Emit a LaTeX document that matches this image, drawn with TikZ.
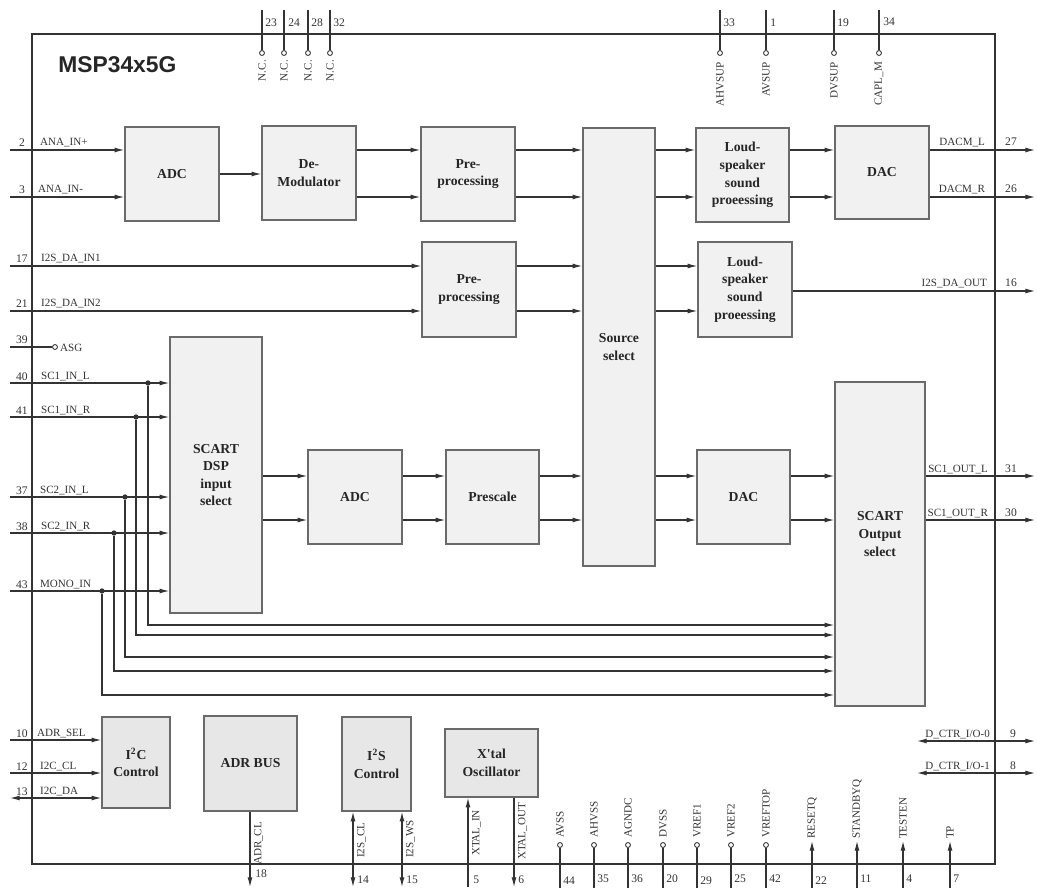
\documentclass[tikz,border=0pt]{standalone}
\usepackage{fontspec}
\setmainfont{Liberation Serif}
\newfontfamily\titlesans{Liberation Sans}
\usepackage{tikz}
\usetikzlibrary{arrows.meta,positioning}
\definecolor{mspline}{HTML}{333333}
\definecolor{mspedge}{HTML}{6A6A6A}
\definecolor{mspfill}{HTML}{F1F1F1}
\definecolor{mspctrl}{HTML}{E7E7E7}

\begin{document}
\begin{tikzpicture}[
    x=0.02cm, y=-0.02cm,
    block/.style={draw=mspedge, fill=mspfill, line width=0.9pt, align=center, inner sep=0pt, font=\fontsize{7.8}{10}\selectfont\bfseries, text=black!85},
    ctrlblock/.style={block, fill=mspctrl},
    blocktext/.style={align=center, inner sep=0pt, font=\fontsize{7.8}{10}\selectfont\bfseries, text=black!85},
    pinname/.style={inner sep=1pt, font=\fontsize{6.3}{7}\selectfont, text=mspline},
    pinnum/.style={inner sep=0pt, font=\fontsize{6.6}{7}\selectfont, text=mspline},
    wire/.style={line width=0.6pt, draw=mspline},
    arrow/.style={wire, -{Latex[length=5.5pt,width=2.8pt]}},
    darrow/.style={wire, {Latex[length=5.5pt,width=2.8pt]}-{Latex[length=5.5pt,width=2.8pt]}},
    ring/.style={circle, draw=mspline, fill=white, line width=0.5pt, minimum size=2.8pt, inner sep=0pt},
    joint/.style={circle, fill=mspline, minimum size=3pt, inner sep=0pt},
]
    \useasboundingbox (0,0) rectangle (1037,888);
    \draw[line width=0.8pt, draw=mspline] (32,34) rectangle (995,864);
    \node[anchor=base west, inner sep=0pt, font=\titlesans\fontsize{13}{15}\selectfont\bfseries, text=black!85] (chipname) at (58,73) {MSP34x5G};

    \coordinate (yA1) at (0,150);
    \coordinate (yA2) at (0,197);
    \coordinate (yB1) at (0,266);
    \coordinate (yB2) at (0,311);
    \coordinate (yC1) at (0,476);
    \coordinate (yC2) at (0,520);

    \node[block, minimum width=1.88cm, minimum height=1.88cm] (adcA) at (172,174) {ADC};
    \node[block, minimum width=1.88cm, minimum height=1.88cm] (demod) at (309,173) {De-\\Modulator};
    \node[block, minimum width=1.88cm, minimum height=1.88cm] (preA) at (468,174) {Pre-\\processing};
    \node[block, minimum width=1.44cm, minimum height=8.76cm] (source) at (619,347) {Source\\select};
    \node[block, minimum width=1.86cm, minimum height=1.88cm] (loudA) at (742.5,175) {Loud-\\speaker\\sound\\proeessing};
    \node[block, minimum width=1.88cm, minimum height=1.86cm] (dacA) at (882,172.5) {DAC};
    \node[block, minimum width=1.88cm, minimum height=1.9cm] (preB) at (469,289.5) {Pre-\\processing};
    \node[block, minimum width=1.88cm, minimum height=1.9cm] (loudB) at (745,289.5) {Loud-\\speaker\\sound\\proeessing};
    \node[block, minimum width=1.84cm, minimum height=5.52cm] (scartin) at (216,475) {SCART\\DSP\\input\\select};
    \node[block, minimum width=1.88cm, minimum height=1.88cm] (adcB) at (355,497) {ADC};
    \node[block, minimum width=1.86cm, minimum height=1.88cm] (prescale) at (492.5,497) {Prescale};
    \node[block, minimum width=1.86cm, minimum height=1.88cm] (dacB) at (743.5,497) {DAC};
    \node[block, minimum width=1.8cm, minimum height=6.48cm] (scartout) at (880,544) {};
    \node[blocktext] (scartouttext) at (880,534) {SCART\\Output\\select};

    \node[ctrlblock, minimum width=1.36cm, minimum height=1.82cm] (iicctrl) at (136,762.5) {I\textsuperscript{2}C\\Control};
    \node[ctrlblock, minimum width=1.86cm, minimum height=1.9cm] (adrbus) at (250.5,763.5) {ADR BUS};
    \node[ctrlblock, minimum width=1.38cm, minimum height=1.88cm] (iisctrl) at (376.5,764) {I\textsuperscript{2}S\\Control};
    \node[ctrlblock, minimum width=1.86cm, minimum height=1.36cm] (xtal) at (491.5,763) {X\textquotesingle tal\\Oscillator};

    \draw[arrow] (adcA.east) -- (adcA.east -| demod.west);
    \draw[arrow] (demod.east |- yA1) -- (preA.west |- yA1);
    \draw[arrow] (demod.east |- yA2) -- (preA.west |- yA2);
    \draw[arrow] (preA.east |- yA1) -- (source.west |- yA1);
    \draw[arrow] (preA.east |- yA2) -- (source.west |- yA2);
    \draw[arrow] (source.east |- yA1) -- (loudA.west |- yA1);
    \draw[arrow] (source.east |- yA2) -- (loudA.west |- yA2);
    \draw[arrow] (loudA.east |- yA1) -- (dacA.west |- yA1);
    \draw[arrow] (loudA.east |- yA2) -- (dacA.west |- yA2);
    \draw[arrow] (preB.east |- yB1) -- (source.west |- yB1);
    \draw[arrow] (preB.east |- yB2) -- (source.west |- yB2);
    \draw[arrow] (source.east |- yB1) -- (loudB.west |- yB1);
    \draw[arrow] (source.east |- yB2) -- (loudB.west |- yB2);
    \draw[arrow] (scartin.east |- yC1) -- (adcB.west |- yC1);
    \draw[arrow] (scartin.east |- yC2) -- (adcB.west |- yC2);
    \draw[arrow] (adcB.east |- yC1) -- (prescale.west |- yC1);
    \draw[arrow] (adcB.east |- yC2) -- (prescale.west |- yC2);
    \draw[arrow] (prescale.east |- yC1) -- (source.west |- yC1);
    \draw[arrow] (prescale.east |- yC2) -- (source.west |- yC2);
    \draw[arrow] (source.east |- yC1) -- (dacB.west |- yC1);
    \draw[arrow] (source.east |- yC2) -- (dacB.west |- yC2);
    \draw[arrow] (dacB.east |- yC1) -- (scartout.west |- yC1);
    \draw[arrow] (dacB.east |- yC2) -- (scartout.west |- yC2);

    \coordinate (p2) at (10,150);
    \coordinate (p3) at (10,197);
    \coordinate (p17) at (10,266);
    \coordinate (p21) at (10,311);
    \coordinate (p39) at (10,347);
    \coordinate (p40) at (10,383);
    \coordinate (p41) at (10,417);
    \coordinate (p37) at (10,497);
    \coordinate (p38) at (10,533);
    \coordinate (p43) at (10,591);
    \coordinate (p10) at (10,740);
    \coordinate (p12) at (10,773);
    \coordinate (p13) at (10,798);

    \draw[arrow] (p2) -- (p2 -| adcA.west);
    \draw[arrow] (p3) -- (p3 -| adcA.west);
    \draw[arrow] (p17) -- (p17 -| preB.west);
    \draw[arrow] (p21) -- (p21 -| preB.west);
    \node[ring] (asg) at (55,347) {};
    \draw[wire] (p39) -- (asg);
    \draw[arrow] (p40) -- (p40 -| scartin.west);
    \draw[arrow] (p41) -- (p41 -| scartin.west);
    \draw[arrow] (p37) -- (p37 -| scartin.west);
    \draw[arrow] (p38) -- (p38 -| scartin.west);
    \draw[arrow] (p43) -- (p43 -| scartin.west);
    \draw[arrow] (p10) -- (p10 -| iicctrl.west);
    \draw[arrow] (p12) -- (p12 -| iicctrl.west);
    \draw[darrow] (p13) -- (p13 -| iicctrl.west);

    \coordinate (bus40) at (0,625);
    \coordinate (bus41) at (0,635);
    \coordinate (bus37) at (0,657);
    \coordinate (bus38) at (0,671);
    \coordinate (bus43) at (0,695);
    \node[joint] (d40) at (148,383) {};
    \node[joint] (d41) at (136,417) {};
    \node[joint] (d37) at (125,497) {};
    \node[joint] (d38) at (114,533) {};
    \node[joint] (d43) at (102,591) {};
    \draw[arrow] (d40) |- (scartout.west |- bus40);
    \draw[arrow] (d41) |- (scartout.west |- bus41);
    \draw[arrow] (d37) |- (scartout.west |- bus37);
    \draw[arrow] (d38) |- (scartout.west |- bus38);
    \draw[arrow] (d43) |- (scartout.west |- bus43);

    \node[pinnum, anchor=base] (n2) at (22,147) {2};
    \node[pinnum, anchor=base] (n3) at (22,194) {3};
    \node[pinnum, anchor=base] (n17) at (22,263) {17};
    \node[pinnum, anchor=base] (n21) at (22,308) {21};
    \node[pinnum, anchor=base] (n39) at (22,343) {39};
    \node[pinnum, anchor=base] (n40) at (22,380) {40};
    \node[pinnum, anchor=base] (n41) at (22,414) {41};
    \node[pinnum, anchor=base] (n37) at (22,494) {37};
    \node[pinnum, anchor=base] (n38) at (22,530) {38};
    \node[pinnum, anchor=base] (n43) at (22,588) {43};
    \node[pinnum, anchor=base] (n10) at (22,737) {10};
    \node[pinnum, anchor=base] (n12) at (22,770) {12};
    \node[pinnum, anchor=base] (n13) at (22,795) {13};

    \node[pinname, anchor=base west] (l2) at (38,146) {ANA\_IN+};
    \node[pinname, anchor=base west] (l3) at (36,193) {ANA\_IN-};
    \node[pinname, anchor=base west] (l17) at (39,262) {I2S\_DA\_IN1};
    \node[pinname, anchor=base west] (l21) at (39,307) {I2S\_DA\_IN2};
    \node[pinname, anchor=west] (lasg) at (58,348) {ASG};
    \node[pinname, anchor=base west] (l40) at (39,379) {SC1\_IN\_L};
    \node[pinname, anchor=base west] (l41) at (39,413) {SC1\_IN\_R};
    \node[pinname, anchor=base west] (l37) at (38,493) {SC2\_IN\_L};
    \node[pinname, anchor=base west] (l38) at (39,529) {SC2\_IN\_R};
    \node[pinname, anchor=base west] (l43) at (38,587) {MONO\_IN};
    \node[pinname, anchor=base west] (l10) at (35,736) {ADR\_SEL};
    \node[pinname, anchor=base west] (l12) at (38,769) {I2C\_CL};
    \node[pinname, anchor=base west] (l13) at (38,794) {I2C\_DA};

    \coordinate (p27) at (1035,150);
    \coordinate (p26) at (1035,197);
    \coordinate (p16) at (1035,291);
    \coordinate (p31) at (1035,476);
    \coordinate (p30) at (1035,520);
    \coordinate (p9) at (1035,741);
    \coordinate (p8) at (1035,773);
    \coordinate (dio0) at (917,741);
    \coordinate (dio1) at (917,773);

    \draw[arrow] (dacA.east |- p27) -- (p27);
    \draw[arrow] (dacA.east |- p26) -- (p26);
    \draw[arrow] (loudB.east |- p16) -- (p16);
    \draw[arrow] (scartout.east |- p31) -- (p31);
    \draw[arrow] (scartout.east |- p30) -- (p30);
    \draw[darrow] (dio0) -- (p9);
    \draw[darrow] (dio1) -- (p8);

    \node[pinname, anchor=base east] (l27) at (987,146) {DACM\_L};
    \node[pinname, anchor=base east] (l26) at (987,193) {DACM\_R};
    \node[pinname, anchor=base east] (l16) at (989,287) {I2S\_DA\_OUT};
    \node[pinname, anchor=base east] (l31) at (990,472) {SC1\_OUT\_L};
    \node[pinname, anchor=base east] (l30) at (990,516) {SC1\_OUT\_R};
    \node[pinname, anchor=base east] (l9) at (992,737) {D\_CTR\_I/O-0};
    \node[pinname, anchor=base east] (l8) at (992,769) {D\_CTR\_I/O-1};

    \node[pinnum, anchor=base] (n27) at (1011,146) {27};
    \node[pinnum, anchor=base] (n26) at (1011,193) {26};
    \node[pinnum, anchor=base] (n16) at (1011,287) {16};
    \node[pinnum, anchor=base] (n31) at (1011,472) {31};
    \node[pinnum, anchor=base] (n30) at (1011,516) {30};
    \node[pinnum, anchor=base] (n9) at (1013,737) {9};
    \node[pinnum, anchor=base] (n8) at (1013,769) {8};

    \coordinate (p23) at (262,10);
    \coordinate (p24) at (284,10);
    \coordinate (p28) at (308,10);
    \coordinate (p32) at (330,10);
    \coordinate (p33) at (720,10);
    \coordinate (p1) at (766,10);
    \coordinate (p19) at (834,10);
    \coordinate (p34) at (879,10);
    \node[ring] (nc23) at (262,53) {};
    \node[ring] (nc24) at (284,53) {};
    \node[ring] (nc28) at (308,53) {};
    \node[ring] (nc32) at (330,53) {};
    \node[ring] (ahvsup) at (720,53) {};
    \node[ring] (avsup) at (766,53) {};
    \node[ring] (dvsup) at (834,53) {};
    \node[ring] (caplm) at (879,53) {};
    \draw[wire] (p23) -- (nc23);
    \draw[wire] (p24) -- (nc24);
    \draw[wire] (p28) -- (nc28);
    \draw[wire] (p32) -- (nc32);
    \draw[wire] (p33) -- (ahvsup);
    \draw[wire] (p1) -- (avsup);
    \draw[wire] (p19) -- (dvsup);
    \draw[wire] (p34) -- (caplm);

    \node[pinnum, anchor=base west] (n23) at (265,27) {23};
    \node[pinnum, anchor=base west] (n24) at (288,27) {24};
    \node[pinnum, anchor=base west] (n28) at (311,27) {28};
    \node[pinnum, anchor=base west] (n32) at (333,27) {32};
    \node[pinnum, anchor=base west] (n33) at (723,27) {33};
    \node[pinnum, anchor=base west] (n1) at (770,27) {1};
    \node[pinnum, anchor=base west] (n19) at (837,27) {19};
    \node[pinnum, anchor=base west] (n34) at (883,26) {34};

    \node[pinname, rotate=90, anchor=east] (l23) at (262,58) {N.C.};
    \node[pinname, rotate=90, anchor=east] (l24) at (284,58) {N.C.};
    \node[pinname, rotate=90, anchor=east] (l28) at (308,58) {N.C.};
    \node[pinname, rotate=90, anchor=east] (l32) at (330,58) {N.C.};
    \node[pinname, rotate=90, anchor=east] (l33) at (720,60) {AHVSUP};
    \node[pinname, rotate=90, anchor=east] (l1) at (766,60) {AVSUP};
    \node[pinname, rotate=90, anchor=east] (l19) at (834,60) {DVSUP};
    \node[pinname, rotate=90, anchor=east] (l34) at (879,60) {CAPL\_M};

    \coordinate (p18) at (250,887);
    \coordinate (p14) at (353,887);
    \coordinate (p15) at (402,887);
    \coordinate (p5) at (468,887);
    \coordinate (p6) at (514,887);
    \draw[arrow] (p18 |- adrbus.south) -- (p18);
    \draw[darrow] (p14 |- iisctrl.south) -- (p14);
    \draw[darrow] (p15 |- iisctrl.south) -- (p15);
    \draw[arrow] (p5) -- (p5 |- xtal.south);
    \draw[arrow] (p6 |- xtal.south) -- (p6);

    \node[pinname, rotate=90, anchor=north west] (l18) at (252,867) {ADR\_CL};
    \node[pinname, rotate=90, anchor=north west] (l14) at (355,860) {I2S\_CL};
    \node[pinname, rotate=90, anchor=north west] (l15) at (404,860) {I2S\_WS};
    \node[pinname, rotate=90, anchor=north west] (l5) at (470,858) {XTAL\_IN};
    \node[pinname, rotate=90, anchor=north west] (l6) at (516,862) {XTAL\_OUT};
    \node[pinnum, anchor=base west] (n18) at (255,877) {18};
    \node[pinnum, anchor=base west] (n14) at (357,883) {14};
    \node[pinnum, anchor=base west] (n15) at (406,883) {15};
    \node[pinnum, anchor=base west] (n5) at (473,883) {5};
    \node[pinnum, anchor=base west] (n6) at (518,883) {6};

    \coordinate (p44) at (560,888);
    \coordinate (p35) at (594,888);
    \coordinate (p36) at (628,888);
    \coordinate (p20) at (663,888);
    \coordinate (p29) at (697,888);
    \coordinate (p25) at (731,888);
    \coordinate (p42) at (766,888);
    \node[ring] (avss) at (560,845) {};
    \node[ring] (ahvss) at (594,845) {};
    \node[ring] (agndc) at (628,845) {};
    \node[ring] (dvss) at (663,845) {};
    \node[ring] (vrefa) at (697,845) {};
    \node[ring] (vrefb) at (731,845) {};
    \node[ring] (vreftop) at (766,845) {};
    \draw[wire] (p44) -- (avss);
    \draw[wire] (p35) -- (ahvss);
    \draw[wire] (p36) -- (agndc);
    \draw[wire] (p20) -- (dvss);
    \draw[wire] (p29) -- (vrefa);
    \draw[wire] (p25) -- (vrefb);
    \draw[wire] (p42) -- (vreftop);
    \node[pinname, rotate=90, anchor=west] (l44) at (560,840) {AVSS};
    \node[pinname, rotate=90, anchor=west] (l35) at (594,840) {AHVSS};
    \node[pinname, rotate=90, anchor=west] (l36) at (628,840) {AGNDC};
    \node[pinname, rotate=90, anchor=west] (l20) at (663,840) {DVSS};
    \node[pinname, rotate=90, anchor=west] (l29) at (697,840) {VREF1};
    \node[pinname, rotate=90, anchor=west] (l25) at (731,840) {VREF2};
    \node[pinname, rotate=90, anchor=west] (l42) at (766,840) {VREFTOP};

    \coordinate (p22) at (812,888);
    \coordinate (p11) at (857,888);
    \coordinate (p4) at (903,888);
    \coordinate (p7) at (950,888);
    \node[pinname, rotate=90, anchor=west] (l22) at (812,841) {RESETQ};
    \node[pinname, rotate=90, anchor=west] (l11) at (857,841) {STANDBYQ};
    \node[pinname, rotate=90, anchor=west] (l4) at (903,841) {TESTEN};
    \node[pinname, rotate=90, anchor=west] (l7) at (950,841) {TP};
    \draw[arrow] (p22) -- (l22);
    \draw[arrow] (p11) -- (l11);
    \draw[arrow] (p4) -- (l4);
    \draw[arrow] (p7) -- (l7);

    \node[pinnum, anchor=base west] (n44) at (563,884) {44};
    \node[pinnum, anchor=base west] (n35) at (597,882) {35};
    \node[pinnum, anchor=base west] (n36) at (631,882) {36};
    \node[pinnum, anchor=base west] (n20) at (666,882) {20};
    \node[pinnum, anchor=base west] (n29) at (700,884) {29};
    \node[pinnum, anchor=base west] (n25) at (734,882) {25};
    \node[pinnum, anchor=base west] (n42) at (769,882) {42};
    \node[pinnum, anchor=base west] (n22) at (815,884) {22};
    \node[pinnum, anchor=base west] (n11) at (860,882) {11};
    \node[pinnum, anchor=base west] (n4) at (906,882) {4};
    \node[pinnum, anchor=base west] (n7) at (953,882) {7};
\end{tikzpicture}
\end{document}
